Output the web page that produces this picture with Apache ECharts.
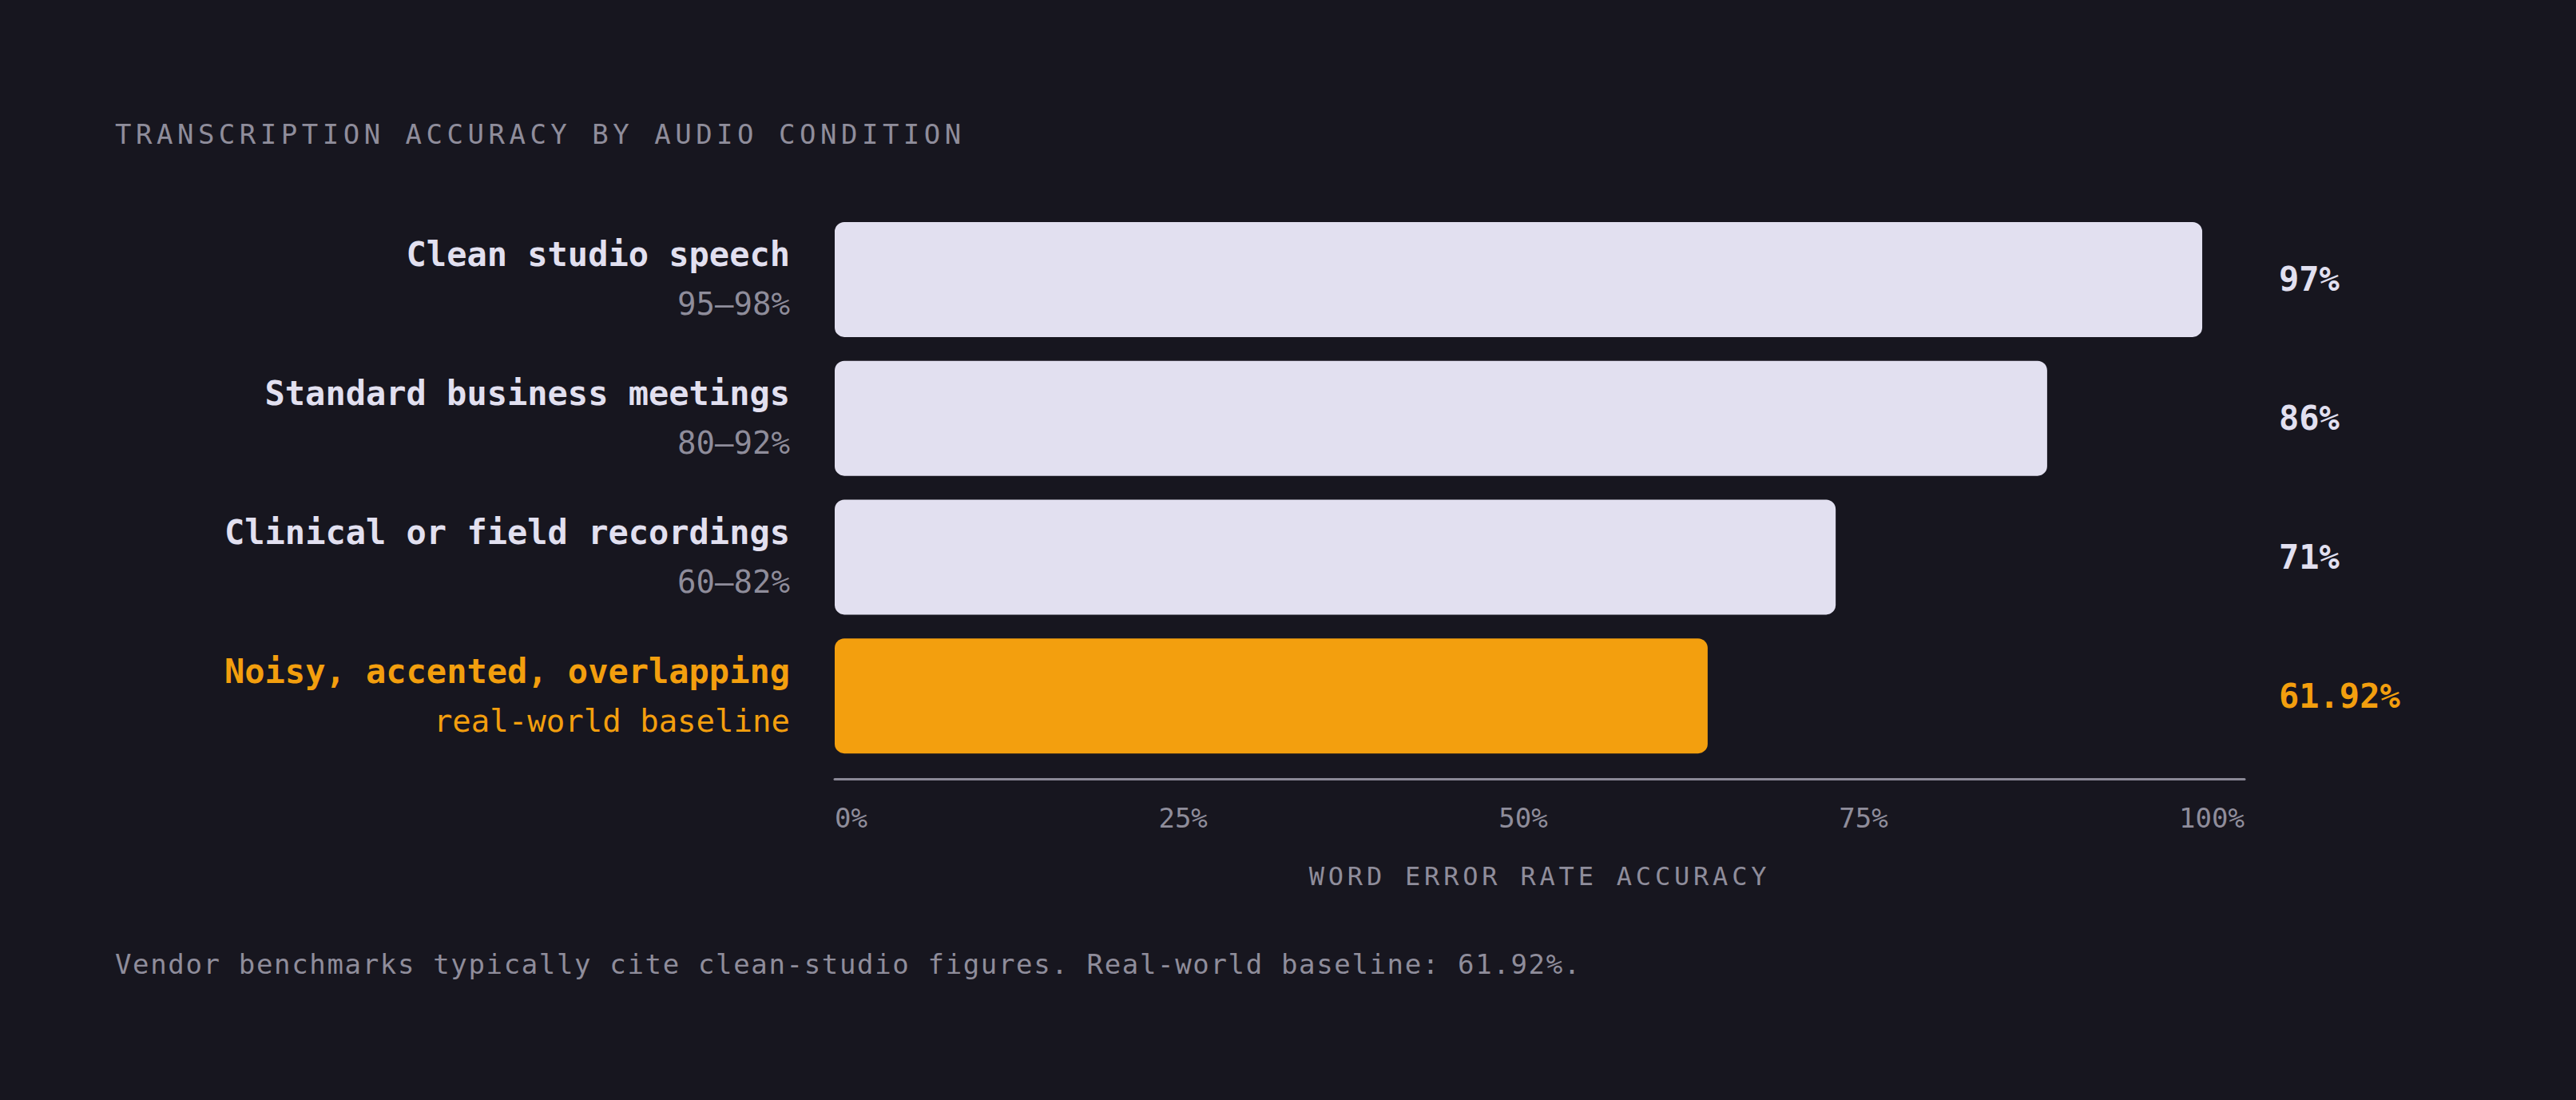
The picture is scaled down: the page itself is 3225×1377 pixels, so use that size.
<!DOCTYPE html>
<html>
<head>
<meta charset="utf-8">
<script src="https://cdn.jsdelivr.net/npm/echarts@6/dist/echarts.min.js"></script>
<style>
  html, body { margin: 0; padding: 0; background: #17161f; }
  #chart { width: 3225px; height: 1377px; }
</style>
</head>
<body>
<div id="chart"></div>
<script>
// data
var categories = ['Clean studio speech', 'Standard business meetings', 'Clinical or field recordings', 'Noisy, accented, overlapping']
var ranges = ['95–98%', '80–92%', '60–82%', 'real-world baseline']
var accuracy = [97, 86, 71, 61.92]
var highlight = 3
var xMin = 0, xMax = 100, xStep = 25
var xTicks = [0, 25, 50, 75, 100]

var titleText = 'TRANSCRIPTION ACCURACY BY AUDIO CONDITION'
var axisTitle = 'WORD ERROR RATE ACCURACY'
var footText = 'Vendor benchmarks typically cite clean-studio figures. Real-world baseline: 61.92%.'

var FONT = "'DejaVu Sans Mono', 'Liberation Mono', monospace"
var BG = '#17161f'
var LIGHT = '#e2e0f0'
var GRAY = '#8f8d9b'
var ORANGE = '#f39f0e'

var gridLeft = 1045, gridRight = 415
var axisLen = 3225 - gridLeft - gridRight
var tickFont = 34

// the tick labels in the original are spread edge to edge (space-between),
// so work out how far each centred label has to move from its tick
var ctx = document.createElement('canvas').getContext('2d')
ctx.font = tickFont + 'px ' + FONT
var widths = xTicks.map(function (t) { return ctx.measureText(t + '%').width })
var total = widths.reduce(function (a, b) { return a + b }, 0)
var gap = (axisLen - total) / (xTicks.length - 1)
var tickRich = {}
var acc = 0
xTicks.forEach(function (t, i) {
    var center = acc + i * gap + widths[i] / 2
    var tickPos = (t - xMin) / (xMax - xMin) * axisLen
    var shift = tickPos - center
    acc += widths[i]
    var pad = (i === 0 || i === xTicks.length - 1) ? [0, 0, 0, 0]
        : (shift > 0 ? [0, 2 * shift, 0, 0] : [0, 0, 0, -2 * shift])
    tickRich['t' + i] = { color: GRAY, fontSize: tickFont, fontFamily: FONT, padding: pad }
})

var myChart = echarts.init(document.getElementById('chart'), null, { renderer: 'svg' })

var option = {
    backgroundColor: BG,
    animation: false,
    textStyle: { fontFamily: FONT },
    title: [{
        text: titleText,
        left: 144,
        top: 151,
        padding: 0,
        textStyle: { color: GRAY, fontSize: 34, fontWeight: 'normal', fontFamily: FONT }
    }, {
        text: footText,
        left: 144,
        top: 1190,
        padding: 0,
        textStyle: { color: GRAY, fontSize: 34, fontWeight: 'normal', fontFamily: FONT }
    }],
    grid: {
        left: gridLeft,
        right: gridRight,
        top: 263,
        height: 695,
        containLabel: false
    },
    xAxis: {
        type: 'value',
        min: xMin,
        max: xMax,
        interval: xStep,
        offset: 17,
        name: axisTitle,
        nameLocation: 'middle',
        nameGap: 106,
        nameTextStyle: { color: GRAY, fontSize: 32, fontFamily: FONT },
        axisLine: { show: true, lineStyle: { color: '#8a8896', width: 3 } },
        axisTick: { show: false },
        splitLine: { show: false },
        axisLabel: {
            color: GRAY,
            fontSize: tickFont,
            fontFamily: FONT,
            margin: 32,
            alignMinLabel: 'left',
            alignMaxLabel: 'right',
            formatter: function (v) {
                var i = xTicks.indexOf(v)
                return '{t' + i + '|' + v + '%}'
            },
            rich: tickRich
        }
    },
    yAxis: [{
        type: 'category',
        data: categories,
        inverse: true,
        axisLine: { show: false },
        axisTick: { show: false },
        axisLabel: {
            margin: 56,
            align: 'right',
            formatter: function (v, i) {
                if (i === highlight) return '{hn|' + v + '}\n{hs|' + ranges[i] + '}'
                return '{n|' + v + '}\n{s|' + ranges[i] + '}'
            },
            rich: {
                n: { color: LIGHT, fontSize: 42, fontWeight: 'bold', fontFamily: FONT, lineHeight: 62, align: 'right' },
                s: { color: GRAY, fontSize: 39, fontFamily: FONT, lineHeight: 62, align: 'right' },
                hn: { color: ORANGE, fontSize: 42, fontWeight: 'bold', fontFamily: FONT, lineHeight: 62, align: 'right' },
                hs: { color: ORANGE, fontSize: 39, fontFamily: FONT, lineHeight: 62, align: 'right' }
            }
        }
    }, {
        type: 'category',
        data: categories,
        inverse: true,
        position: 'right',
        axisLine: { show: false },
        axisTick: { show: false },
        axisLabel: {
            margin: 43,
            align: 'left',
            formatter: function (v, i) {
                var t = accuracy[i] + '%'
                return i === highlight ? '{h|' + t + '}' : '{v|' + t + '}'
            },
            rich: {
                v: { color: LIGHT, fontSize: 42, fontWeight: 'bold', fontFamily: FONT },
                h: { color: ORANGE, fontSize: 42, fontWeight: 'bold', fontFamily: FONT }
            }
        }
    }],
    series: [{
        type: 'bar',
        yAxisIndex: 0,
        barWidth: 144,
        data: accuracy.map(function (v, i) {
            return {
                value: v,
                itemStyle: { color: i === highlight ? ORANGE : LIGHT, borderRadius: 12 }
            }
        })
    }]
}

myChart.setOption(option)

// zrender has no letter spacing, so add it on the svg text after render
var spacing = {}
spacing[titleText] = 5.5
spacing[axisTitle] = 4.8
spacing[footText] = 1.65
function applySpacing() {
    var nodes = document.querySelectorAll('#chart text')
    for (var i = 0; i < nodes.length; i++) {
        var s = spacing[nodes[i].textContent]
        if (s) nodes[i].setAttribute('letter-spacing', s)
    }
}
myChart.on('finished', applySpacing)
setTimeout(applySpacing, 50)
</script>
</body>
</html>
